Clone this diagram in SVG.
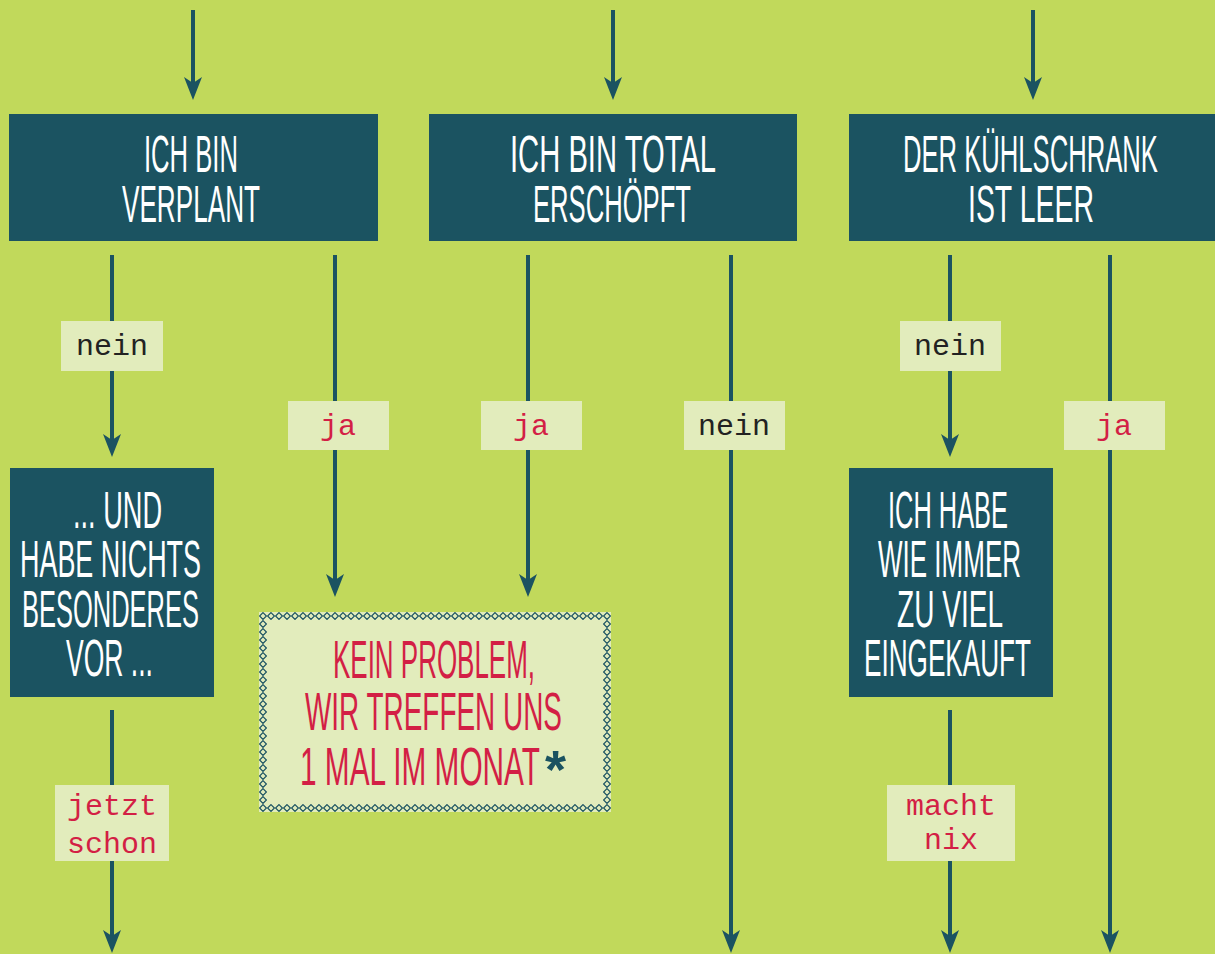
<svg xmlns="http://www.w3.org/2000/svg" width="1215" height="954" viewBox="0 0 1215 954">
<style>
.bg{fill:#c1d95b}
.dark{fill:#1b5361}
.light{fill:#e2ecbc}
.conn{stroke:#1b5361;stroke-width:4;fill:none}
.hand{font-family:"Liberation Sans",Arial,sans-serif;font-size:51px;fill:#ffffff}
.red{fill:#d31f45;font-size:53px}
.lbl{font-family:"Liberation Mono","Courier New",monospace;font-size:30px;text-anchor:middle}
.lk{fill:#222222}
.lr{fill:#d31f45}
</style>
<defs>
<marker id="ah" viewBox="0 -10 24 20" refX="6" refY="0" markerWidth="24" markerHeight="20" markerUnits="userSpaceOnUse" orient="auto">
<path d="M0,-9 L23,0 L0,9 L6,0 Z" fill="#1b5361"/>
</marker>
<pattern id="dia" x="259" y="612" width="8" height="8" patternUnits="userSpaceOnUse">
<path d="M4,0.6 L7.4,4 L4,7.4 L0.6,4 Z" fill="none" stroke="#1b5361" stroke-width="1.2"/>
</pattern>
</defs>
<rect class="bg" x="0" y="0" width="1215" height="954"/>

<g id="connectors">
<line class="conn" x1="193" y1="10" x2="193" y2="83" marker-end="url(#ah)"/>
<line class="conn" x1="613" y1="10" x2="613" y2="83" marker-end="url(#ah)"/>
<line class="conn" x1="1033" y1="10" x2="1033" y2="83" marker-end="url(#ah)"/>
<line class="conn" x1="112" y1="255" x2="112" y2="440" marker-end="url(#ah)"/>
<line class="conn" x1="335" y1="255" x2="335" y2="580" marker-end="url(#ah)"/>
<line class="conn" x1="528" y1="255" x2="528" y2="580" marker-end="url(#ah)"/>
<line class="conn" x1="731" y1="255" x2="731" y2="936" marker-end="url(#ah)"/>
<line class="conn" x1="950" y1="255" x2="950" y2="440" marker-end="url(#ah)"/>
<line class="conn" x1="1110" y1="255" x2="1110" y2="936" marker-end="url(#ah)"/>
<line class="conn" x1="112" y1="710" x2="112" y2="936" marker-end="url(#ah)"/>
<line class="conn" x1="950" y1="710" x2="950" y2="936" marker-end="url(#ah)"/>
<g id="labels">
<rect class="light" x="61" y="321" width="102" height="50"/>
<text class="lbl lk" x="112" y="355">nein</text>
<rect class="light" x="288" y="401" width="101" height="49"/>
<text class="lbl lr" x="338" y="435">ja</text>
<rect class="light" x="481" y="401" width="101" height="49"/>
<text class="lbl lr" x="531" y="435">ja</text>
<rect class="light" x="684" y="401" width="101" height="49"/>
<text class="lbl lk" x="734" y="435">nein</text>
<rect class="light" x="900" y="321" width="101" height="50"/>
<text class="lbl lk" x="950" y="355">nein</text>
<rect class="light" x="1064" y="401" width="101" height="49"/>
<text class="lbl lr" x="1114" y="435">ja</text>
<rect class="light" x="55" y="785" width="114" height="76"/>
<text class="lbl lr"><tspan x="112" y="815">jetzt</tspan><tspan x="112" y="853">schon</tspan></text>
<rect class="light" x="887" y="785" width="128" height="76"/>
<text class="lbl lr"><tspan x="951" y="815">macht</tspan><tspan x="951" y="849">nix</tspan></text>
</g>
</g>

<g id="node-verplant">
<rect class="dark" x="9" y="114" width="369" height="127"/>
<text class="hand" transform="scale(0.52,1)" lengthAdjust="spacingAndGlyphs"><tspan x="276.9" y="172" textLength="180.8" lengthAdjust="spacingAndGlyphs">ICH BIN</tspan><tspan x="234.6" y="222" textLength="265.4" lengthAdjust="spacingAndGlyphs">VERPLANT</tspan></text>
</g>

<g id="node-erschoepft">
<rect class="dark" x="429" y="114" width="368" height="127"/>
<text class="hand" transform="scale(0.52,1)"><tspan x="980.8" y="172" textLength="396.2" lengthAdjust="spacingAndGlyphs">ICH BIN TOTAL</tspan><tspan x="1025" y="222" textLength="303.8" lengthAdjust="spacingAndGlyphs">ERSCHÖPFT</tspan></text>
</g>

<g id="node-kuehlschrank">
<rect class="dark" x="849" y="114" width="366" height="127"/>
<text class="hand" transform="scale(0.52,1)"><tspan x="1736.5" y="172" textLength="490.4" lengthAdjust="spacingAndGlyphs">DER KÜHLSCHRANK</tspan><tspan x="1861.5" y="222" textLength="242.3" lengthAdjust="spacingAndGlyphs">IST LEER</tspan></text>
</g>

<g id="node-nichts-vor">
<rect class="dark" x="10" y="468" width="204" height="229"/>
<text class="hand" transform="scale(0.52,1)"><tspan x="140.4" y="528" textLength="171.2" lengthAdjust="spacingAndGlyphs">... UND</tspan><tspan x="38.5" y="577" textLength="348.1" lengthAdjust="spacingAndGlyphs">HABE NICHTS</tspan><tspan x="42.3" y="627" textLength="340.4" lengthAdjust="spacingAndGlyphs">BESONDERES</tspan><tspan x="126.9" y="676" textLength="167.3" lengthAdjust="spacingAndGlyphs">VOR ...</tspan></text>
</g>

<g id="node-eingekauft">
<rect class="dark" x="849" y="468" width="204" height="229"/>
<text class="hand" transform="scale(0.52,1)"><tspan x="1707.7" y="528" textLength="230.8" lengthAdjust="spacingAndGlyphs">ICH HABE</tspan><tspan x="1688.5" y="577" textLength="275" lengthAdjust="spacingAndGlyphs">WIE IMMER</tspan><tspan x="1725" y="627" textLength="203.8" lengthAdjust="spacingAndGlyphs">ZU VIEL</tspan><tspan x="1661.5" y="676" textLength="321.2" lengthAdjust="spacingAndGlyphs">EINGEKAUFT</tspan></text>
</g>

<g id="node-kein-problem">
<rect class="light" x="259" y="612" width="352" height="200"/>
<path d="M259,612 H611 V812 H259 Z M267,620 V804 H603 V620 Z" fill="url(#dia)" fill-rule="evenodd"/>
<text class="hand red" transform="scale(0.52,1)"><tspan x="640.4" y="678" textLength="388.5" lengthAdjust="spacingAndGlyphs">KEIN PROBLEM,</tspan><tspan x="586.5" y="730" textLength="494.2" lengthAdjust="spacingAndGlyphs">WIR TREFFEN UNS</tspan><tspan x="576.9" y="785" textLength="461.5" lengthAdjust="spacingAndGlyphs">1 MAL IM MONAT</tspan></text>
<text x="545" y="788" style="font-family:'Liberation Sans',Arial,sans-serif;font-size:54px;font-weight:bold;fill:#1b5361">*</text>
</g>
</svg>
